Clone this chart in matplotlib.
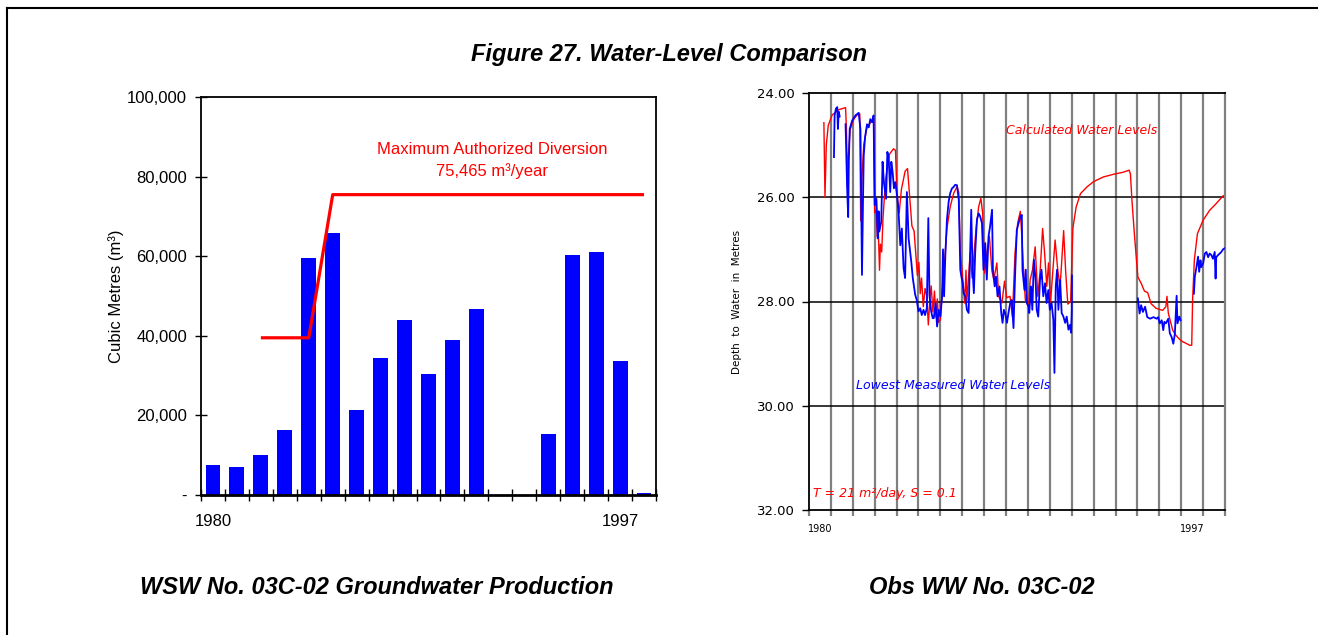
import numpy as np
import matplotlib.pyplot as plt
from matplotlib.lines import Line2D

# ---- left chart data: annual groundwater production (m3)
years = list(range(1980, 1999))
production = [7500, 7000, 10000, 16300, 59500, 65800, 21300, 34400, 44000,
              30300, 38900, 46700, 0, 0, 15300, 60300, 61000, 33600, 400]
limit_years = list(range(1982, 1999))
limit_vals = [39500, 39500, 39500] + [75465] * 14

# ---- right chart data: calculated water levels (depth, m)
calc_t = [1980.68, 1980.73, 1980.79, 1980.88, 1981.06, 1981.36, 1981.67, 1981.71, 1981.76, 1981.80,
          1981.88, 1982.05, 1982.20, 1982.32, 1982.36, 1982.42, 1982.50, 1982.65, 1982.88, 1982.95,
          1983.00, 1983.06, 1983.12, 1983.17, 1983.22, 1983.26, 1983.32, 1983.38, 1983.50, 1983.68,
          1983.86, 1983.95, 1984.02, 1984.12, 1984.22, 1984.39, 1984.50, 1984.62, 1984.70, 1984.80,
          1984.88, 1984.95, 1985.02, 1985.08, 1985.14, 1985.22, 1985.30, 1985.38, 1985.45, 1985.52,
          1985.58, 1985.66, 1985.73, 1985.80, 1985.86, 1985.92, 1986.00, 1986.08, 1986.15, 1986.30,
          1986.45, 1986.61, 1986.76, 1986.84, 1986.91, 1986.99, 1987.11, 1987.17, 1987.21, 1987.36,
          1987.45, 1987.63, 1987.75, 1987.85, 1987.93, 1988.02, 1988.12, 1988.24, 1988.35, 1988.44,
          1988.58, 1988.66, 1988.81, 1988.93, 1989.03, 1989.18, 1989.29, 1989.41, 1989.53, 1989.65,
          1989.72, 1989.80, 1989.88, 1990.03, 1990.10, 1990.21, 1990.33, 1990.45, 1990.56, 1990.67,
          1990.76, 1990.86, 1990.94, 1991.03, 1991.12, 1991.24, 1991.36, 1991.47, 1991.63, 1991.72,
          1991.82, 1991.95, 1992.00, 1992.05, 1992.20, 1992.40, 1992.70, 1993.00, 1993.45, 1993.90,
          1994.35, 1994.62, 1994.68, 1994.75, 1994.86, 1995.02, 1995.17, 1995.32, 1995.47, 1995.62,
          1995.85, 1996.15, 1996.30, 1996.35, 1996.41, 1996.61, 1996.76, 1996.91, 1997.06, 1997.21,
          1997.39, 1997.48, 1997.52, 1997.60, 1997.74, 1998.00, 1998.30, 1998.60, 1998.92]
calc_d = [24.57, 26.00, 25.00, 24.62, 24.42, 24.32, 24.28, 24.70, 25.80, 25.20,
          24.70, 24.50, 24.42, 24.40, 26.45, 25.60, 25.00, 24.65, 24.53, 24.50,
          26.30, 26.25, 26.75, 26.70, 27.40, 26.90, 27.05, 26.40, 25.65, 25.17,
          25.07, 25.10, 25.95, 26.30, 25.85, 25.50, 25.45, 26.10, 26.55, 26.65,
          27.10, 27.50, 27.25, 27.85, 27.55, 28.10, 27.75, 27.90, 28.45, 27.95,
          27.70, 28.20, 27.80, 28.30, 27.95, 28.40, 28.35, 27.80, 27.50, 26.60,
          26.18, 25.92, 25.80, 25.90, 27.07, 27.40, 28.03, 27.40, 28.00, 27.07,
          27.55, 26.60, 26.18, 26.02, 26.30, 27.46, 27.07, 26.75, 27.40, 27.58,
          27.26, 27.90, 28.03, 27.61, 27.93, 27.90, 28.29, 27.07, 26.50, 26.27,
          26.75, 27.39, 27.97, 28.10, 27.59, 27.39, 26.95, 27.90, 27.39, 26.60,
          27.07, 27.71, 27.26, 28.03, 27.52, 26.82, 27.39, 27.71, 26.64, 27.40,
          28.05, 28.00, 27.30, 26.60, 26.19, 25.93, 25.80, 25.70, 25.61, 25.56,
          25.52, 25.48, 25.55, 26.06, 26.70, 27.53, 27.65, 27.80, 27.83, 28.04,
          28.13, 28.17, 28.10, 27.90, 28.22, 28.55, 28.65, 28.72, 28.77, 28.80,
          28.84, 28.84, 27.97, 27.20, 26.70, 26.44, 26.25, 26.12, 25.97]

# ---- right chart data: lowest measured water levels (depth, m), nan = no record
meas_t = [1981.14, 1981.17, 1981.23, 1981.29, 1981.32, 1981.36, 1981.40, np.nan,
          1981.67, 1981.74, 1981.79, 1981.82, 1981.86, 1981.97, 1982.12, 1982.27, 1982.35, 1982.42,
          1982.47, 1982.50, 1982.56, 1982.65, 1982.73, 1982.80, 1982.88, 1982.95, 1983.00, 1983.08,
          1983.14, 1983.18, 1983.21, 1983.30, 1983.36, 1983.42, 1983.52, 1983.58, 1983.64, 1983.71,
          1983.76, 1983.82, 1983.88, 1983.94, 1984.02, 1984.09, 1984.17, 1984.24, 1984.32, 1984.39,
          1984.47, 1984.55, 1984.67, 1984.74, 1984.85, 1984.92, 1985.00, 1985.08, 1985.15, 1985.23,
          1985.30, 1985.38, 1985.45, 1985.50, 1985.58, 1985.65, 1985.70, 1985.78, 1985.85, 1985.92,
          1986.00, 1986.08, 1986.12, 1986.17, 1986.23, 1986.30, 1986.38, 1986.45, 1986.53, 1986.61,
          1986.68, 1986.76, 1986.84, 1986.91, 1986.96, 1987.02, 1987.06, 1987.14, 1987.21, 1987.29,
          1987.36, 1987.41, 1987.47, 1987.53, 1987.59, 1987.67, 1987.75, 1987.82, 1987.90, 1987.97,
          1988.05, 1988.12, 1988.20, 1988.27, 1988.36, 1988.40, 1988.48, 1988.54, 1988.61, 1988.70,
          1988.78, 1988.84, 1988.90, 1988.96, 1989.04, 1989.11, 1989.19, 1989.26, 1989.34, 1989.41,
          1989.49, 1989.57, 1989.65, 1989.72, 1989.75, 1989.84, 1989.90, 1989.95, 1990.03, 1990.06,
          1990.14, 1990.20, 1990.27, 1990.35, 1990.40, 1990.47, 1990.55, 1990.62, 1990.70, 1990.78,
          1990.85, 1990.93, 1991.00, 1991.08, 1991.16, 1991.21, 1991.27, 1991.33, 1991.39, 1991.47,
          1991.54, 1991.62, 1991.70, 1991.77, 1991.85, 1991.92, 1991.97, 1992.00, 1992.01, np.nan,
          1995.02, 1995.10, 1995.17, 1995.25, 1995.35, 1995.45, 1995.58, 1995.73, 1995.88, 1995.95,
          1996.02, 1996.11, 1996.18, 1996.23, 1996.30, 1996.41, 1996.48, 1996.56, 1996.64, 1996.71,
          1996.79, 1996.83, 1996.91, 1996.97, np.nan,
          1997.58, 1997.62, 1997.70, 1997.77, 1997.82, 1997.88, 1997.92, 1998.00, 1998.08, 1998.15,
          1998.23, 1998.30, 1998.38, 1998.45, 1998.53, 1998.57, 1998.60, 1998.68, 1998.76, 1998.83,
          1998.91, 1998.98]
meas_d = [25.23, 24.43, 24.30, 24.27, 24.69, 24.36, 24.45, np.nan,
          24.60, 25.80, 26.38, 25.30, 24.69, 24.53, 24.43, 24.38, 24.70, 27.49,
          25.96, 25.20, 24.85, 24.60, 24.66, 24.50, 24.56, 24.43, 26.15, 26.03,
          26.79, 26.27, 26.66, 26.47, 25.32, 25.71, 26.03, 25.13, 25.26, 25.90,
          25.32, 25.52, 25.83, 25.71, 25.96, 26.28, 26.92, 26.60, 27.36, 27.55,
          25.90, 26.79, 27.23, 27.55, 27.87, 27.97, 28.19, 28.13, 28.26, 28.16,
          28.26, 28.13, 26.40, 27.87, 28.19, 28.32, 28.32, 28.03, 28.48, 28.16,
          28.29, 27.90, 27.00, 27.90, 27.07, 26.43, 26.08, 25.92, 25.83, 25.80,
          25.76, 25.77, 26.05, 27.39, 27.52, 27.65, 27.84, 27.90, 28.16, 28.22,
          27.07, 26.24, 27.39, 27.84, 27.07, 26.43, 26.31, 26.37, 26.50, 27.39,
          26.88, 27.58, 26.75, 26.56, 26.24, 27.39, 27.71, 27.52, 27.90, 27.71,
          28.22, 28.41, 28.16, 28.22, 28.41, 28.22, 28.03, 27.97, 28.51, 27.52,
          26.63, 26.50, 26.37, 26.34, 27.39, 27.78, 27.39, 28.03, 28.10, 28.22,
          27.71, 28.16, 27.20, 27.59, 28.16, 28.29, 27.59, 27.39, 27.90, 27.65,
          28.03, 27.78, 28.16, 28.03, 28.35, 29.37, 27.71, 27.39, 28.16, 27.59,
          28.22, 28.29, 28.41, 28.29, 28.54, 28.45, 28.60, 28.20, 27.50, np.nan,
          27.94, 28.23, 28.07, 28.20, 28.10, 28.30, 28.33, 28.30, 28.33, 28.30,
          28.42, 28.36, 28.55, 28.39, 28.42, 28.33, 28.61, 28.68, 28.81, 28.62,
          27.89, 28.42, 28.29, 28.36, np.nan,
          27.85, 27.53, 27.33, 27.14, 27.43, 27.21, 27.34, 27.27, 27.08, 27.05,
          27.15, 27.08, 27.11, 27.18, 27.05, 27.56, 27.15, 27.11, 27.08, 27.05,
          27.00, 26.98]

W, H = 1318, 635
fig = plt.figure(figsize=(W / 100, H / 100), dpi=100)
bold = dict(family='Liberation Sans', fontweight='bold', fontstyle='italic', fontsize=17)

# page frame (top and left edge)
fig.add_artist(Line2D([7 / W, 7 / W], [0, 1 - 8 / H], color='black', lw=1.5))
fig.add_artist(Line2D([7 / W, 1], [1 - 8 / H, 1 - 8 / H], color='black', lw=1.5))

fig.text(669 / W, 1 - 55 / H, 'Figure 27. Water-Level Comparison', ha='center', va='center', **bold)
fig.text(377 / W, 1 - 588 / H, 'WSW No. 03C-02 Groundwater Production', ha='center', va='center', **bold)
fig.text(982 / W, 1 - 588 / H, 'Obs WW No. 03C-02', ha='center', va='center', **bold)

# ---------------- left: production bars
ax1 = fig.add_axes([201 / W, 1 - 495 / H, 455 / W, 398 / H])
x = np.arange(len(years))
ax1.bar(x, production, width=0.62, color='#0000ff', zorder=2)
lx = [years.index(y) for y in limit_years]
ax1.plot(lx, limit_vals, color='#ff0000', lw=2.3, solid_capstyle='butt', zorder=3)
ax1.set_xlim(-0.5, len(years) - 0.5)
ax1.set_ylim(0, 100000)
ax1.set_yticks(range(0, 100001, 20000))
ax1.set_yticklabels(['-', '20,000', '40,000', '60,000', '80,000', '100,000'],
                    family='Liberation Sans', fontsize=12)
ax1.tick_params(axis='y', direction='inout', length=8, width=1, pad=6)
ax1.set_xticks([0, 17])
ax1.set_xticklabels(['1980', '1997'], family='Liberation Sans', fontsize=12)
ax1.set_xticks(np.arange(-0.5, len(years)), minor=True)
ax1.tick_params(axis='x', which='major', length=0, pad=14)
ax1.tick_params(axis='x', which='minor', direction='inout', length=9, width=1)
for s in ax1.spines.values():
    s.set_linewidth(1.3)
ax1.spines['bottom'].set_linewidth(2)
ax1.set_ylabel('Cubic Metres (m³)', family='Liberation Sans', fontsize=12, labelpad=2)
ax1.text(11.65, 84000, 'Maximum Authorized Diversion\n75,465 m³/year', color='#ff0000',
         ha='center', va='center', family='Liberation Sans', fontsize=12, linespacing=1.5)

# ---------------- right: water levels
ax2 = fig.add_axes([809 / W, 1 - 510 / H, 416 / W, 417 / H])
ax2.set_xlim(1980, 1999)
ax2.set_ylim(32, 24)
for yr in range(1981, 1999):
    ax2.axvline(yr, color='#808080', lw=1.6, zorder=1)
for d in [26, 28, 30]:
    ax2.axhline(d, color='black', lw=1.1, zorder=1)
ax2.plot(calc_t, calc_d, color='#ff0000', lw=1.0, zorder=3)
ax2.plot(meas_t, meas_d, color='#0000ff', lw=1.3, zorder=4)
ax2.set_yticks([24, 26, 28, 30, 32])
ax2.set_yticklabels(['24.00', '26.00', '28.00', '30.00', '32.00'], family='DejaVu Sans', fontsize=9.5)
ax2.tick_params(axis='y', direction='out', length=5, width=1, pad=5)
ax2.set_xticks([1980.5, 1997.5])
ax2.set_xticklabels(['1980', '1997'], family='DejaVu Sans', fontsize=7)
ax2.set_xticks(range(1980, 2000), minor=True)
ax2.tick_params(axis='x', which='major', length=0, pad=10)
ax2.tick_params(axis='x', which='minor', direction='out', length=4, width=1.6, color='#808080')
for s in ['left', 'top', 'bottom']:
    ax2.spines[s].set_linewidth(1.3)
ax2.spines['right'].set_color('#808080')
ax2.spines['right'].set_linewidth(1.6)
ax2.set_ylabel('Depth  to  Water  in  Metres', family='DejaVu Sans', fontsize=7.5, labelpad=11)
ax2.text(1989.0, 24.71, 'Calculated Water Levels', color='#ff0000', fontstyle='italic',
         family='DejaVu Sans', fontsize=9, va='center', ha='left')
ax2.text(1982.15, 29.62, 'Lowest Measured Water Levels', color='#0000ff', fontstyle='italic',
         family='DejaVu Sans', fontsize=9, va='center', ha='left')
ax2.text(1980.18, 31.68, 'T = 21 m²/day, S = 0.1', color='#ff0000', fontstyle='italic',
         family='DejaVu Sans', fontsize=9, va='center', ha='left')

fig.savefig('out.png', dpi=100)
